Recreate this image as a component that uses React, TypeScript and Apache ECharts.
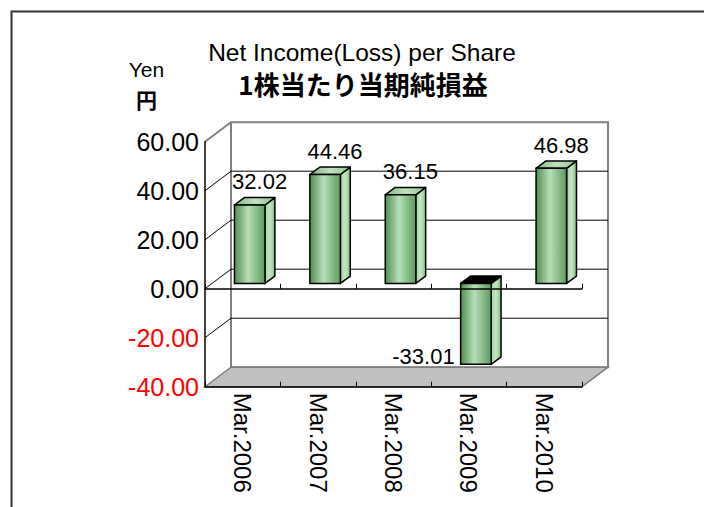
import React, { useEffect, useRef } from 'react';
import * as echarts from 'echarts';

const categories = ['Mar.2006', 'Mar.2007', 'Mar.2008', 'Mar.2009', 'Mar.2010'];
const values = [32.02, 44.46, 36.15, -33.01, 46.98];
const yTicks = [-40, -20, 0, 20, 40, 60];
const titleEn = 'Net Income(Loss) per Share';
const titleJa = '1株当たり当期純損益';
const unitEn = 'Yen';
const unitJa = '円';

const DEPTH = [26, -19.5];
const BAR_FRONT = 0.27;
const BAR_DEPTH = 0.38;
const BAR_WIDTH = 0.405;
const LATIN = '"Liberation Sans", Arial, sans-serif';
const CJK = '"Noto Sans CJK JP", sans-serif';

const yMin = yTicks[0];
const yMax = yTicks[yTicks.length - 1];
const gridVals = yTicks.filter((v) => v > yMin && v < yMax);

export default function App() {
  const ref = useRef<HTMLDivElement>(null);
  useEffect(() => {
    if (!ref.current) return;
    const chart = echarts.init(ref.current, undefined, { renderer: 'svg' });
    const [ddx, ddy] = DEPTH;
    const option: any = {
      animation: false,
      backgroundColor: '#ffffff',
      graphic: [
        {
          type: 'rect',
          shape: { x: 11.5, y: 11.5, width: 900, height: 700 },
          style: { fill: 'none', stroke: '#333333', lineWidth: 2 },
          z: 0,
        },
        {
          type: 'text',
          x: 362,
          y: 52.5,
          style: { text: titleEn, fontSize: 24.5, fontFamily: LATIN, fill: '#000', align: 'center', verticalAlign: 'middle' },
        },
        {
          type: 'text',
          x: 363,
          y: 83.5,
          style: { text: titleJa, fontSize: 26, fontWeight: 'bold', fontFamily: CJK, fill: '#000', align: 'center', verticalAlign: 'middle' },
        },
        {
          type: 'text',
          x: 146.5,
          y: 69,
          style: { text: unitEn, fontSize: 21, fontFamily: LATIN, fill: '#000', align: 'center', verticalAlign: 'middle' },
        },
        {
          type: 'text',
          x: 146.5,
          y: 99,
          style: { text: unitJa, fontSize: 21, fontWeight: 'bold', fontFamily: CJK, fill: '#000', align: 'center', verticalAlign: 'middle' },
        },
      ],
      grid: {
        left: 205,
        right: 122,
        top: 141.7,
        bottom: 120.3,
        outerBoundsMode: 'none',
        containLabel: false,
      },
      xAxis: [
        {
          type: 'category',
          data: categories,
          position: 'bottom',
          z: 5,
          axisLine: { onZero: false, lineStyle: { color: '#000', width: 1.5 } },
          axisTick: { show: true, inside: true, length: 5, lineStyle: { color: '#000' } },
          axisLabel: {
            rotate: -90,
            margin: 6,
            fontSize: 24,
            fontFamily: LATIN,
            color: '#000',
          },
          splitLine: { show: false },
        },
        {
          type: 'category',
          data: categories,
          position: 'bottom',
          z: 5,
          axisLine: { onZero: true, lineStyle: { color: '#000', width: 1.5 } },
          axisTick: { show: true, inside: true, length: 5, lineStyle: { color: '#000' } },
          axisLabel: { show: false },
          splitLine: { show: false },
        },
      ],
      yAxis: {
        type: 'value',
        min: yMin,
        max: yMax,
        interval: 20,
        z: 5,
        axisLine: { show: true, lineStyle: { color: '#000', width: 1.5 } },
        axisTick: { show: false },
        splitLine: { show: false },
        axisLabel: {
          margin: 6,
          fontSize: 25,
          fontFamily: LATIN,
          formatter: (v: number) => v.toFixed(2),
          color: (v: any) => (Number(v) < 0 ? '#ff0000' : '#000000'),
        },
      },
      series: [
        {
          type: 'custom',
          name: 'walls',
          z: 1,
          silent: true,
          data: [[0, yMin]],
          renderItem: (params: any) => {
            const cs = params.coordSys;
            const x = cs.x, y = cs.y, w = cs.width, h = cs.height;
            return {
              type: 'group',
              children: [
                {
                  type: 'polygon',
                  shape: { points: [[x, y], [x + ddx, y + ddy], [x + ddx, y + h + ddy], [x, y + h]] },
                  style: { fill: '#ffffff' },
                },
                {
                  type: 'rect',
                  shape: { x: x + ddx, y: y + ddy, width: w, height: h },
                  style: { fill: '#ffffff', stroke: '#808080', lineWidth: 2 },
                },
                {
                  type: 'polygon',
                  shape: { points: [[x, y + h], [x + w, y + h], [x + w + ddx, y + h + ddy], [x + ddx, y + h + ddy]] },
                  style: { fill: '#c0c0c0', stroke: '#808080', lineWidth: 1.5 },
                },
                {
                  type: 'line',
                  shape: { x1: x, y1: y, x2: x + ddx, y2: y + ddy },
                  style: { stroke: '#808080', lineWidth: 2 },
                },
              ],
            };
          },
        },
        {
          type: 'custom',
          name: 'gridlines',
          z: 2,
          silent: true,
          data: gridVals.map((v) => [0, v]),
          renderItem: (params: any, api: any) => {
            const cs = params.coordSys;
            const x = cs.x, w = cs.width;
            const py = api.coord([0, api.value(1)])[1];
            return {
              type: 'group',
              children: [
                {
                  type: 'line',
                  shape: { x1: x + ddx, y1: py + ddy, x2: x + w + ddx, y2: py + ddy },
                  style: { stroke: '#000', lineWidth: 1 },
                },
                {
                  type: 'line',
                  shape: { x1: x, y1: py, x2: x + ddx, y2: py + ddy },
                  style: { stroke: '#000', lineWidth: 1 },
                },
              ],
            };
          },
        },
        {
          type: 'custom',
          name: 'bars',
          z: 3,
          data: values.map((v, i) => [i, v]),
          renderItem: (params: any, api: any) => {
            const i = api.value(0);
            const v = api.value(1);
            const p0 = api.coord([i, 0]);
            const p1 = api.coord([i, v]);
            const band = api.size([1, 0])[0];
            const w = band * BAR_WIDTH;
            const fx = ddx * BAR_FRONT, fy = ddy * BAR_FRONT;
            const dx = ddx * BAR_DEPTH, dy = ddy * BAR_DEPTH;
            const left = p0[0] + fx - w / 2;
            const right = left + w;
            const yTop = Math.min(p0[1], p1[1]) + fy;
            const yBot = Math.max(p0[1], p1[1]) + fy;
            const frontFill = new echarts.graphic.LinearGradient(0, 0, 1, 0, [
              { offset: 0, color: '#4f8f4f' },
              { offset: 0.45, color: '#b7deb7' },
              { offset: 1, color: '#5c9c5c' },
            ]);
            const sideFill = new echarts.graphic.LinearGradient(0, 0, 1, 0, [
              { offset: 0, color: '#a6d3a6' },
              { offset: 0.5, color: '#c3e5c3' },
              { offset: 1, color: '#86bf86' },
            ]);
            const topFill = v < 0
              ? '#000000'
              : new echarts.graphic.LinearGradient(0, 0, 1, 0, [
                  { offset: 0, color: '#7fbb7f' },
                  { offset: 0.5, color: '#bfe2bf' },
                  { offset: 1, color: '#8ec68e' },
                ]);
            const label = v.toFixed(2);
            const textEl = v >= 0
              ? {
                  type: 'text',
                  style: {
                    text: label,
                    x: left + w / 2 + dx,
                    y: yTop - 23,
                    fill: '#000',
                    fontSize: 22,
                    fontFamily: LATIN,
                    align: 'center',
                    verticalAlign: 'middle',
                  },
                }
              : {
                  type: 'text',
                  style: {
                    text: label,
                    x: left - 6,
                    y: yBot - 8,
                    fill: '#000',
                    fontSize: 22,
                    fontFamily: LATIN,
                    align: 'right',
                    verticalAlign: 'middle',
                  },
                };
            return {
              type: 'group',
              children: [
                {
                  type: 'polygon',
                  shape: { points: [[right, yTop], [right + dx, yTop + dy], [right + dx, yBot + dy], [right, yBot]] },
                  style: { fill: sideFill, stroke: '#000', lineWidth: 1.5, lineJoin: 'round' },
                },
                {
                  type: 'polygon',
                  shape: { points: [[left, yTop], [left + dx, yTop + dy], [right + dx, yTop + dy], [right, yTop]] },
                  style: { fill: topFill, stroke: '#000', lineWidth: 1.5, lineJoin: 'round' },
                },
                {
                  type: 'rect',
                  shape: { x: left, y: yTop, width: w, height: yBot - yTop },
                  style: { fill: frontFill, stroke: '#000', lineWidth: 1.5 },
                },
                textEl,
              ],
            };
          },
        },
      ],
    };
    chart.setOption(option);
    return () => chart.dispose();
  }, []);
  return (
    <div
      ref={ref}
      style={{ position: 'fixed', left: 0, top: 0, width: 704, height: 507, background: '#fff' }}
    />
  );
}
